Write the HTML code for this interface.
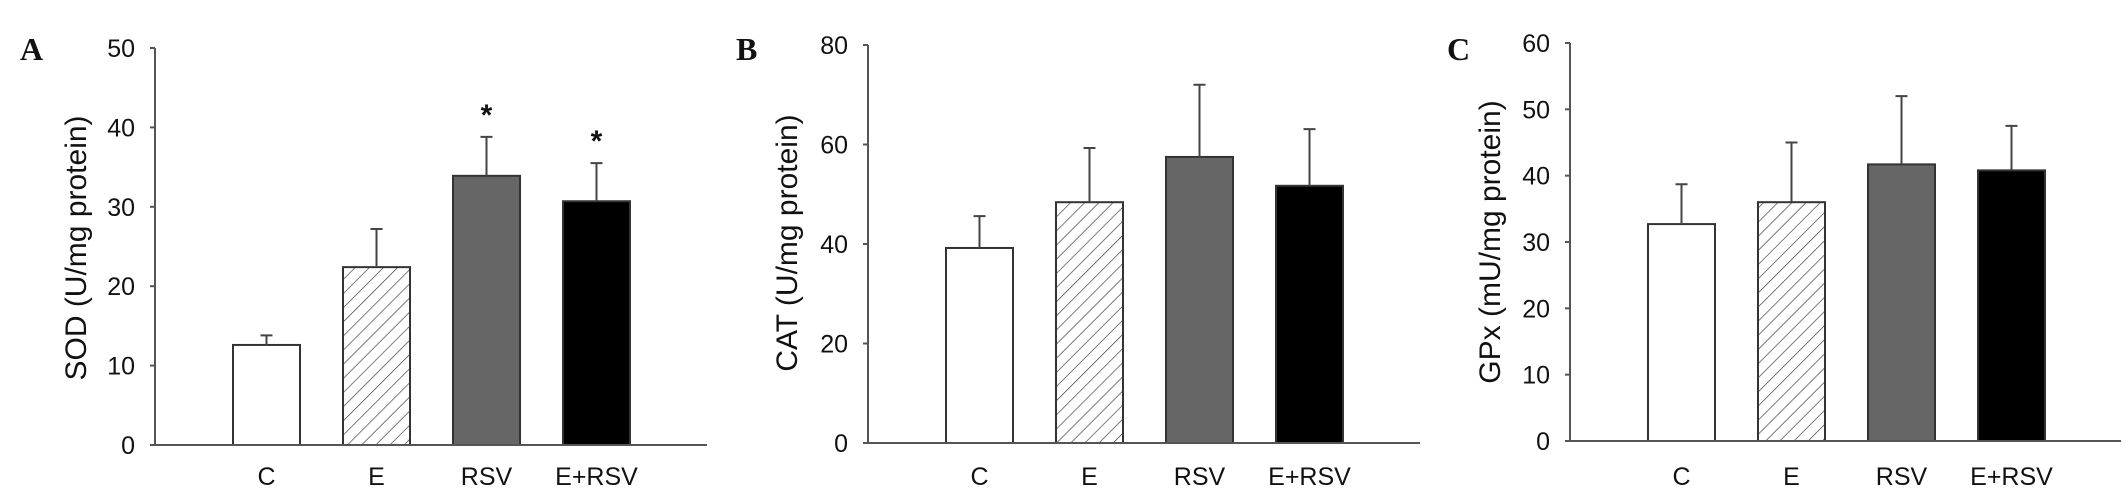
<!DOCTYPE html>
<html><head><meta charset="utf-8"><style>
html,body{margin:0;padding:0;background:#fff;}
svg{display:block;}
text{font-family:"Liberation Sans",Arial,sans-serif;fill:#111;}
.lt{font-family:"Liberation Serif","Times New Roman",serif;font-weight:bold;}
</style></head><body>
<svg id="fig" width="2126" height="495" viewBox="0 0 2126 495" xmlns="http://www.w3.org/2000/svg">
<defs>
<pattern id="hatch" patternUnits="userSpaceOnUse" width="10" height="10" patternTransform="rotate(45)">
<line x1="0" y1="0" x2="0" y2="10" stroke="#333" stroke-width="1.3"/>
</pattern>
</defs>
</svg>
<script>
const categories = ["C", "E", "RSV", "E+RSV"];
const sodMeans = [12.6, 22.4, 33.9, 30.7];
const sodErrTop = [13.8, 27.2, 38.8, 35.5];
const catMeans = [39.2, 48.4, 57.5, 51.7];
const catErrTop = [45.6, 59.3, 72.0, 63.1];
const gpxMeans = [32.7, 36.0, 41.7, 40.8];
const gpxErrTop = [38.7, 45.0, 52.0, 47.5];
const sodTicks = [0, 10, 20, 30, 40, 50];
const catTicks = [0, 20, 40, 60, 80];
const gpxTicks = [0, 10, 20, 30, 40, 50, 60];
const sodStars = [false, false, true, true];

const NS = "http://www.w3.org/2000/svg";
const svg = document.getElementById('fig');
const fills = ["#ffffff", "url(#hatch)", "#666666", "#000000"];
function mk(tag, attrs, parent) {
  const e = document.createElementNS(NS, tag);
  for (const k in attrs) e.setAttribute(k, attrs[k]);
  (parent || svg).appendChild(e);
  return e;
}
function panel(p) {
  const g = mk('g', {});
  
  
  const y = v => p.y0 - (v / p.max) * (p.y0 - p.yTop);
  const bx = i => p.firstBar + i * 110;
  // letter
  const L = mk('text', {x: p.letterX, y: 60, 'font-size': 32, class: 'lt'}, g);
  L.textContent = p.letter;
  
  
  // title
  const T = mk('text', {x: 0, y: 0, 'font-size': 30, 'text-anchor': 'middle', transform: `translate(${p.titleX},${p.titleY}) rotate(-90)`, 'dominant-baseline': 'middle'}, g);
  T.textContent = p.title;
  
  
  // bars
  p.means.forEach((m, i) => {
    const r = mk('rect', {x: bx(i), y: y(m), width: 67, height: p.y0 - y(m), fill: fills[i], stroke: '#333', 'stroke-width': 2}, g);
    
    
    const cx = bx(i) + 33.5;
    const e = mk('path', {d: `M${cx},${y(m)}V${y(p.err[i])}M${cx - 6},${y(p.err[i])}H${cx + 6}`, stroke: '#444', 'stroke-width': 2, fill: 'none'}, g);
    
    
    const c = mk('text', {x: cx, y: 485, 'font-size': 25, 'text-anchor': 'middle'}, g);
    c.textContent = categories[i];
    
    
    if (p.stars && p.stars[i]) {
      const s = mk('text', {x: cx, y: y(p.err[i]) - 12, 'font-size': 30, 'text-anchor': 'middle', 'font-weight': 'bold'}, g);
      s.textContent = '*';
      
      
    }
  });
  // axes
  const ax = mk('path', {d: `M${p.axX},${y(p.max)}V${p.y0}M${p.axX - 5},${p.y0}H${p.axEnd}`, stroke: '#555', 'stroke-width': 2, fill: 'none'}, g);
  
  
  p.ticks.forEach(t => {
    const tk = mk('line', {x1: p.axX - 5, x2: p.axX, y1: y(t), y2: y(t), stroke: '#555', 'stroke-width': 2}, g);
    
    
    const tl = mk('text', {x: p.axX - 20, y: y(t) + 9, 'font-size': 25, 'text-anchor': 'end'}, g);
    tl.textContent = t;
    
    
  });
}
panel({name: 'panel-a-sod', letter: 'A', letterX: 20, title: 'SOD (U/mg protein)', titleX: 78, titleY: 248,
  axX: 155, axEnd: 707, y0: 445, yTop: 48, max: 50, firstBar: 233, means: sodMeans, err: sodErrTop, ticks: sodTicks, stars: sodStars});
panel({name: 'panel-b-cat', letter: 'B', letterX: 736, title: 'CAT (U/mg protein)', titleX: 789, titleY: 243,
  axX: 868, axEnd: 1420, y0: 443, yTop: 45, max: 80, firstBar: 946, means: catMeans, err: catErrTop, ticks: catTicks});
panel({name: 'panel-c-gpx', letter: 'C', letterX: 1447, title: 'GPx (mU/mg protein)', titleX: 1492, titleY: 242,
  axX: 1570, axEnd: 2121, y0: 441, yTop: 43, max: 60, firstBar: 1648, means: gpxMeans, err: gpxErrTop, ticks: gpxTicks});
</script>
</body></html>
